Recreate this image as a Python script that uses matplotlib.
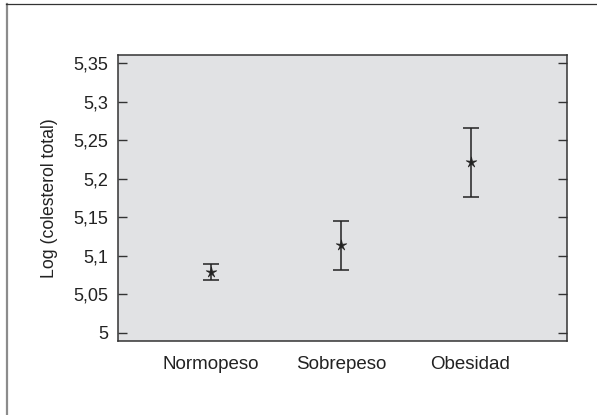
import numpy as np
import matplotlib
matplotlib.use("Agg")
import matplotlib.pyplot as plt
from matplotlib.lines import Line2D
from matplotlib.path import Path

# datos
grupos = ["Normopeso", "Sobrepeso", "Obesidad"]
medias = [5.078, 5.114, 5.221]
inferior = [5.068, 5.081, 5.176]
superior = [5.089, 5.145, 5.266]
ticks_y = [5.0, 5.05, 5.1, 5.15, 5.2, 5.25, 5.3, 5.35]
etiquetas_y = ["5", "5,05", "5,1", "5,15", "5,2", "5,25", "5,3", "5,35"]

plt.rcParams['font.family'] = ['Liberation Sans', 'DejaVu Sans']

# estrella de puntas finas
ang = np.pi / 2 + np.arange(10) * np.pi / 5
rad = np.where(np.arange(10) % 2 == 0, 1.0, 0.28)
verts = np.column_stack([rad * np.cos(ang), rad * np.sin(ang)])
verts = np.vstack([verts, verts[:1]])
estrella = Path(verts, closed=True)

fig = plt.figure(figsize=(5.97, 4.15), dpi=100)
ax = fig.add_axes([118 / 597, 1 - 341 / 415, (566.5 - 118) / 597, (341 - 55) / 415])
ax.set_facecolor("#e1e2e4")

x = np.arange(1, len(grupos) + 1)
medias = np.array(medias)
err = [medias - np.array(inferior), np.array(superior) - medias]
ax.errorbar(x, medias, yerr=err, fmt='none', ecolor="#222222",
            elinewidth=1.1, capsize=6, capthick=1.1)
ax.plot(x, medias, linestyle='none', marker=estrella, markersize=8,
        color="#222222", markeredgewidth=0.5)

ax.set_xlim(0.282, 3.74)
ax.set_ylim(4.989, 5.3604)
ax.set_xticks(x)
ax.set_xticklabels(grupos)
ax.set_yticks(ticks_y)
ax.set_yticklabels(etiquetas_y)

ax.tick_params(axis='x', length=0, pad=11, labelsize=13.5, labelcolor="#222222")
ax.tick_params(axis='y', direction='in', length=6.5, width=1.0, color="#333333",
               right=True, pad=7, labelsize=13, labelcolor="#222222")
for s in ax.spines.values():
    s.set_linewidth(1.1)
    s.set_color("#333333")

ax.set_ylabel("Log (colesterol total)", fontsize=12.7, color="#222222", labelpad=11)

# marco exterior
fig.add_artist(Line2D([7 / 597, 7 / 597], [0, 1 - 4 / 415], transform=fig.transFigure,
                      color="#8c8c8c", linewidth=1.6))
fig.add_artist(Line2D([6 / 597, 1], [1 - 4.5 / 415, 1 - 4.5 / 415], transform=fig.transFigure,
                      color="#333333", linewidth=0.9))

fig.savefig("out.png", dpi=100)
